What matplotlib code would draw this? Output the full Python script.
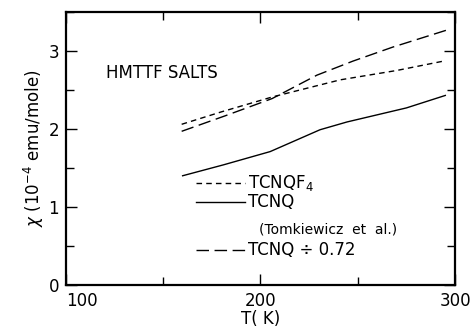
import numpy as np
import matplotlib
matplotlib.use('Agg')
from matplotlib import pyplot as plt
from matplotlib.ticker import MultipleLocator

plt.rcParams['font.family'] = ['DejaVu Sans']

# TCNQF4 (short dashes)
t_f4 = [159.5, 180, 206, 241, 270, 294]
chi_f4 = [2.06, 2.22, 2.41, 2.63, 2.75, 2.87]
# TCNQ (solid), Tomkiewicz et al.
t_tcnq = [160, 181, 205, 230.6, 244.5, 275, 295]
chi_tcnq = [1.40, 1.54, 1.71, 1.99, 2.09, 2.27, 2.43]
# TCNQ / 0.72 (long dashes)
t_scaled = [159.5, 182, 206, 229, 247.5, 268, 296]
chi_scaled = [1.97, 2.17, 2.39, 2.69, 2.87, 3.05, 3.27]

xticks = [100, 200, 300]
xticklabels = ['100', '200', '300']

fig = plt.figure(figsize=(4.74, 3.29), dpi=100)
ax = fig.add_axes([0.139, 0.134, 0.821, 0.8295])

lw = 1.0
ax.plot(t_f4, chi_f4, color='black', lw=lw, dashes=[4, 3])
ax.plot(t_tcnq, chi_tcnq, color='black', lw=lw)
ax.plot(t_scaled, chi_scaled, color='black', lw=lw, dashes=[9, 4])

ax.set_xlim(100, 300)
ax.set_ylim(0, 3.5)
ax.set_xticks(xticks, xticklabels)
ax.xaxis.set_minor_locator(MultipleLocator(50))
ax.yaxis.set_major_locator(MultipleLocator(1))
ax.yaxis.set_minor_locator(MultipleLocator(0.5))
ax.tick_params(which='both', direction='in', top=True, right=True,
               labelsize=12, width=1.0, pad=5)
ax.tick_params(which='major', length=8)
ax.tick_params(which='minor', length=6)
for s in ax.spines.values():
    s.set_linewidth(1.6)
for lbl in ax.get_xticklabels():
    if lbl.get_text() == '100':
        lbl.set_horizontalalignment('left')

ax.set_xlabel('T( K)', fontsize=12, labelpad=0)
ax.set_ylabel(r'$\chi$ (10$^{-4}$ emu/mole)', fontsize=12, labelpad=2)

ax.text(0.103, 0.775, 'HMTTF SALTS', transform=ax.transAxes, fontsize=12,
        va='center')

# manual legend
tr = ax.transAxes
def key(y, dashes, label):
    x0, x1 = 0.334, 0.460
    ln, = ax.plot([x0, x1], [y, y], transform=tr, color='black', lw=lw)
    if dashes:
        ln.set_dashes(dashes)
    ax.text(0.468, y, label, transform=tr, fontsize=12, va='center')

key(0.375, [4, 3], r'TCNQF$_4$')
key(0.302, None, 'TCNQ')
ax.text(0.497, 0.203, '(Tomkiewicz  et  al.)', transform=tr, fontsize=10,
        va='center')
key(0.128, [9, 4], 'TCNQ \u00f7 0.72')

fig.savefig('out.png', dpi=100)
